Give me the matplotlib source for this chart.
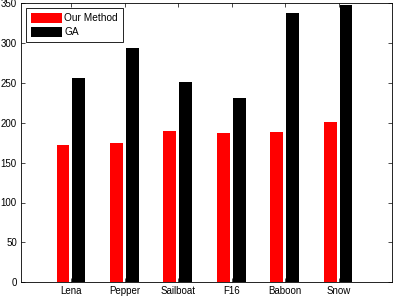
import matplotlib
matplotlib.use("Agg")
import matplotlib.pyplot as plt
import numpy as np

plt.rcParams['font.family'] = ['Liberation Sans', 'DejaVu Sans']

images = ['Lena', 'Pepper', 'Sailboat', 'F16', 'Baboon', 'Snow']
our_method = [172, 174, 189, 187, 188, 201]
ga = [256, 294, 251, 231, 337, 347]

x = np.arange(1, len(images) + 1)

fig = plt.figure(figsize=(3.94, 2.96), dpi=100)
ax = fig.add_axes([21 / 394, 1 - 282.3 / 296, (392 - 21) / 394, (282.3 - 3) / 296])

ax.bar(x - 0.155, our_method, width=0.24, color='red', label='Our Method')
ax.bar(x + 0.14, ga, width=0.24, color='black', label='GA')

ax.set_xlim(0.06, 7.0)
ax.set_ylim(0, 350)
ax.set_xticks(x)
ax.set_xticklabels(images)
ax.set_yticks(np.arange(0, 351, 50))
ax.tick_params(direction='in', top=True, right=True, labelsize=7, length=3, width=0.5, pad=3)
for s in ax.spines.values():
    s.set_linewidth(0.6)

leg = ax.legend(loc='upper left', fontsize=7.3, fancybox=False, framealpha=1,
                edgecolor='black', handlelength=3.0, handleheight=1.1,
                handletextpad=0.25, borderaxespad=0.5, labelspacing=0.35,
                borderpad=0.5)
leg.get_frame().set_linewidth(0.6)

fig.savefig('out.png', dpi=100)
